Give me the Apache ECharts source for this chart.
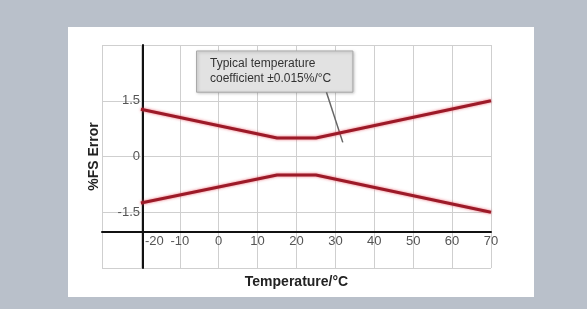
<!DOCTYPE html>
<html>
<head>
<meta charset="utf-8">
<script src="https://cdn.jsdelivr.net/npm/echarts@6/dist/echarts.min.js"></script>
<style>
  html, body { margin: 0; padding: 0; background: #b9c0ca; }
  #panel { position: absolute; left: 68px; top: 27px; width: 466px; height: 270px; background: #fff; }
  #chart { position: absolute; left: 0; top: 0; width: 587px; height: 309px; }
</style>
</head>
<body>
<div id="panel"></div>
<div id="chart"></div>
<script>
// data
const temps = [-20, 15, 25, 70]
const upper = [1.27, 0.5, 0.5, 1.5]
const lower = [-1.25, -0.5, -0.5, -1.5]
const xTicks = [-20, -10, 0, 10, 20, 30, 40, 50, 60, 70]
const yTicks = [-1.5, 0, 1.5]
const note = ['Typical temperature', 'coefficient \u00b10.015%/\u00b0C']

const myChart = echarts.init(document.getElementById('chart'))
const font = 'Liberation Sans, Arial, sans-serif'

const lineSeries = (name, data) => ({
  name,
  type: 'line',
  data: temps.map((t, i) => [t, data[i]]),
  symbol: 'none',
  z: 5,
  lineStyle: {
    width: 3,
    color: '#9c1a28',
    shadowBlur: 3,
    shadowColor: 'rgba(230,70,85,0.8)'
  }
})

myChart.setOption({
  animation: false,
  grid: {left: 102, right: 96, top: 45, bottom: 41},
  xAxis: {
    type: 'value',
    min: -30,
    max: 70,
    interval: 10,
    offset: -36,
    name: 'Temperature/\u00b0C',
    nameLocation: 'middle',
    nameGap: 43,
    nameTextStyle: {color: '#222', fontSize: 14, fontWeight: 'bold', fontFamily: font},
    axisLine: {show: true, onZero: false, lineStyle: {color: '#111', width: 2}},
    axisTick: {show: false},
    splitLine: {show: true, lineStyle: {color: '#cfcfcf'}},
    axisLabel: {
      margin: 3,
      color: '#555',
      fontSize: 13,
      fontFamily: font,
      formatter: v => {
        if (!xTicks.includes(v)) return ''
        return v === -20 ? '{first|' + v + '}' : String(v)
      },
      rich: {first: {padding: [0, 0, 0, 27], color: '#555', fontSize: 13, fontFamily: font}}
    }
  },
  yAxis: {
    type: 'value',
    min: -3,
    max: 3,
    interval: 1.5,
    offset: -41,
    name: '%FS Error',
    nameLocation: 'middle',
    nameGap: 42,
    nameTextStyle: {color: '#222', fontSize: 14, fontWeight: 'bold', fontFamily: font},
    axisLine: {show: true, onZero: false, lineStyle: {color: '#111', width: 2}},
    axisTick: {show: false},
    splitLine: {show: true, lineStyle: {color: '#cfcfcf'}},
    axisLabel: {
      margin: 3,
      color: '#555',
      fontSize: 13,
      fontFamily: font,
      formatter: v => yTicks.includes(v) ? String(v) : ''
    }
  },
  series: [
    {
      ...lineSeries('upper', upper),
      markArea: {
        silent: true,
        itemStyle: {color: '#e2e2e2', borderColor: '#a9a9a9', borderWidth: 1,
          shadowBlur: 3, shadowColor: 'rgba(0,0,0,0.25)', shadowOffsetX: 1, shadowOffsetY: 1},
        label: {
          show: true,
          position: 'insideLeft',
          distance: 14,
          color: '#333',
          fontSize: 12,
          lineHeight: 15,
          fontFamily: font,
          formatter: note.join('\n')
        },
        data: [[{coord: [-5.7, 2.84]}, {coord: [34.5, 1.73]}]]
      },
      markLine: {
        silent: true,
        symbol: 'none',
        label: {show: false},
        lineStyle: {color: '#666', type: 'solid', width: 1.5},
        data: [[{coord: [27.7, 1.73]}, {coord: [31.9, 0.38]}]]
      }
    },
    lineSeries('lower', lower)
  ]
})
</script>
</body>
</html>
